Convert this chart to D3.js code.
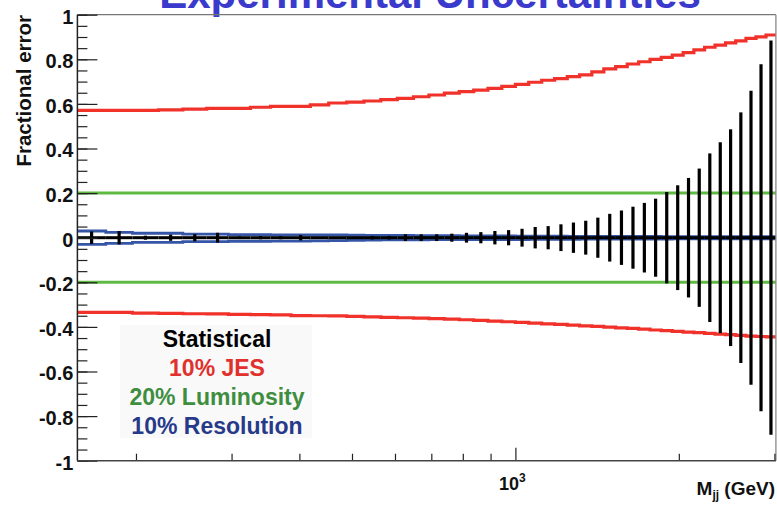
<!DOCTYPE html>
<html><head><meta charset="utf-8">
<script src="https://cdn.jsdelivr.net/npm/d3@7"></script>
<style>
html,body{margin:0;padding:0;background:#fff;}
svg{display:block;font-family:"Liberation Sans",Arial,Helvetica,sans-serif;}
</style></head>
<body><svg id="c" width="777" height="505"></svg>
<script>
// Bin edges of the dijet mass spectrum (GeV)
const binEdges = [156,176,197,220,244,270,296,325,354,386,419,453,489,526,565,606,649,693,740,788,838,890,944,1000,1058,1118,1181,1246,1313,1383,1455,1530,1607,1687,1770,1856,1945,2037,2132,2231,2332,2438,2546,2659,2775,2895,3019];
// Statistical fractional error (symmetric) per bin
const statErr = [0.028,0.030,0.009,0.014,0.016,0.022,0.006,0.007,0.007,0.012,0.003,0.003,0.004,0.008,0.008,0.015,0.015,0.015,0.018,0.022,0.025,0.030,0.034,0.040,0.048,0.052,0.060,0.068,0.076,0.090,0.107,0.122,0.139,0.156,0.175,0.205,0.235,0.268,0.310,0.378,0.428,0.486,0.562,0.659,0.778,0.884];
// 10% JES upper / lower fractional shifts per bin
const jesUp = [0.571,0.571,0.571,0.573,0.577,0.580,0.580,0.585,0.589,0.589,0.596,0.604,0.608,0.613,0.619,0.625,0.632,0.640,0.648,0.655,0.662,0.670,0.679,0.688,0.697,0.706,0.713,0.722,0.730,0.744,0.757,0.767,0.779,0.789,0.800,0.809,0.819,0.830,0.842,0.854,0.864,0.874,0.883,0.894,0.901,0.909];
const jesDown = [-0.335,-0.335,-0.338,-0.339,-0.341,-0.342,-0.344,-0.345,-0.346,-0.349,-0.350,-0.351,-0.353,-0.355,-0.357,-0.359,-0.361,-0.363,-0.365,-0.368,-0.371,-0.374,-0.377,-0.380,-0.383,-0.386,-0.389,-0.392,-0.395,-0.398,-0.401,-0.404,-0.407,-0.410,-0.414,-0.417,-0.420,-0.423,-0.426,-0.429,-0.432,-0.435,-0.438,-0.441,-0.443,-0.445];
// 20% luminosity
const lumiUp = 0.2, lumiDown = -0.2;
// 10% resolution upper / lower per bin
const resUp = [0.030,0.024,0.020,0.020,0.016,0.016,0.014,0.014,0.013,0.013,0.012,0.012,0.011,0.010,0.010,0.010,0.009,0.009,0.009,0.008,0.008,0.008,0.008,0.007,0.007,0.007,0.007,0.006,0.006,0.006,0.006,0.006,0.006,0.006,0.006,0.005,0.005,0.005,0.005,0.005,0.005,0.005,0.005,0.005,0.005,0.005];
const resDown = [-0.030,-0.025,-0.021,-0.021,-0.018,-0.018,-0.016,-0.016,-0.015,-0.015,-0.014,-0.013,-0.012,-0.011,-0.010,-0.010,-0.010,-0.009,-0.009,-0.009,-0.008,-0.008,-0.008,-0.008,-0.007,-0.007,-0.007,-0.007,-0.006,-0.006,-0.006,-0.006,-0.006,-0.006,-0.006,-0.006,-0.005,-0.005,-0.005,-0.005,-0.005,-0.005,-0.005,-0.005,-0.005,-0.005];
// Axis ticks
const yMajorTicks = [-1,-0.8,-0.6,-0.4,-0.2,0,0.2,0.4,0.6,0.8,1];
const yTickLabels = ["-1","-0.8","-0.6","-0.4","-0.2","0","0.2","0.4","0.6","0.8","1"];
const yMinorTicks = d3.range(-20,21).map(k => k*0.05);
const xMinorTicks = [200,300,400,500,600,700,800,900,2000,3000];
const xMajorTicks = [1000];
const legendItems = [
  {text:"Statistical", color:"#000000"},
  {text:"10% JES", color:"#e2302c"},
  {text:"20% Luminosity", color:"#3f8e3f"},
  {text:"10% Resolution", color:"#273a8a"}
];

const svg = d3.select("#c");
const L=77.4, R=775.9, T=14.7, B=460.7;
const x = d3.scaleLog().domain([binEdges[0], binEdges[binEdges.length-1]]).range([L,R]);
const y = d3.scaleLinear().domain([-1,1]).range([B,T]);

// title (partially clipped at top, as in the original)
svg.append("text").attr("x",430).attr("y",8).attr("text-anchor","middle")
  .attr("font-size",42).attr("font-weight","bold").attr("fill","#3a3acc")
  .text("Experimental Uncertainties");

// legend background
svg.append("rect").attr("x",120).attr("y",325).attr("width",192).attr("height",113).attr("fill","#f9f9f9");

const g = svg.append("g");

// step helper
const stepLine = d3.line().curve(d3.curveStepAfter).x(d=>x(d[0])).y(d=>y(d[1]));
function stepData(vals){
  const pts = vals.map((v,i)=>[binEdges[i],v]);
  pts.push([binEdges[binEdges.length-1], vals[vals.length-1]]);
  return pts;
}

// luminosity
[lumiUp,lumiDown].forEach(v=>{
  g.append("line").attr("x1",x(binEdges[0])).attr("x2",x(binEdges[binEdges.length-1]))
   .attr("y1",y(v)).attr("y2",y(v)).attr("stroke","#5fba43").attr("stroke-width",3);
});
// JES
[jesUp,jesDown].forEach(vals=>{
  g.append("path").attr("d",stepLine(stepData(vals))).attr("fill","none")
   .attr("stroke","#f0322a").attr("stroke-width",3.2);
});
// resolution
[resUp,resDown].forEach(vals=>{
  g.append("path").attr("d",stepLine(stepData(vals))).attr("fill","none")
   .attr("stroke","#3556a6").attr("stroke-width",2.8);
});
// statistical: horizontal bin-width bars at 0 and vertical error bars
const bins = statErr.map((e,i)=>({lo:binEdges[i], hi:binEdges[i+1], c:Math.sqrt(binEdges[i]*binEdges[i+1]), e}));
g.selectAll("line.h").data(bins).join("line").attr("class","h")
  .attr("x1",d=>x(d.lo)).attr("x2",d=>x(d.hi)).attr("y1",y(0)).attr("y2",y(0))
  .attr("stroke","#000").attr("stroke-width",3);
g.selectAll("line.v").data(bins).join("line").attr("class","v")
  .attr("x1",d=>x(d.c)).attr("x2",d=>x(d.c)).attr("y1",d=>y(-d.e)).attr("y2",d=>y(d.e))
  .attr("stroke","#000").attr("stroke-width",3.2);

// frame
svg.append("line").attr("x1",L).attr("x2",R).attr("y1",T).attr("y2",T).attr("stroke","#777").attr("stroke-width",1.3);
svg.append("line").attr("x1",R).attr("x2",R).attr("y1",T).attr("y2",B).attr("stroke","#888").attr("stroke-width",1.3);

// y axis
const yMinor = svg.append("g").attr("transform",`translate(${L},0)`)
  .call(d3.axisLeft(y).tickValues(yMinorTicks).tickSize(-10).tickFormat(""));
const yMajor = svg.append("g").attr("transform",`translate(${L},0)`)
  .call(d3.axisLeft(y).tickValues(yMajorTicks).tickSize(-20).tickPadding(4)
    .tickFormat((d,i)=>yTickLabels[i]));
[yMinor,yMajor].forEach(a=>{a.select(".domain").remove(); a.selectAll(".tick line").attr("stroke","#222").attr("stroke-width",1.2);});
yMajor.selectAll(".tick text").attr("font-size",20).attr("font-weight","bold").attr("fill","#111")
  .attr("font-family","Liberation Sans, Arial, sans-serif").attr("dy","0.42em");

// x axis
const xMinor = svg.append("g").attr("transform",`translate(0,${B})`)
  .call(d3.axisBottom(x).tickValues(xMinorTicks).tickSize(-7).tickFormat(""));
const xMajor = svg.append("g").attr("transform",`translate(0,${B})`)
  .call(d3.axisBottom(x).tickValues(xMajorTicks).tickSize(-13).tickFormat(""));
[xMinor,xMajor].forEach(a=>{a.select(".domain").remove(); a.selectAll(".tick line").attr("stroke","#222").attr("stroke-width",1.2);});

// axis lines
svg.append("line").attr("x1",L).attr("x2",L).attr("y1",T).attr("y2",B).attr("stroke","#222").attr("stroke-width",1.5);
svg.append("line").attr("x1",L).attr("x2",R).attr("y1",B).attr("y2",B).attr("stroke","#444").attr("stroke-width",1.5);

// x tick label 10^3
const lab = svg.append("text").attr("x",x(1000)-3).attr("y",490).attr("text-anchor","middle")
  .attr("font-size",18).attr("font-weight","bold").attr("fill","#111");
lab.append("tspan").text("10");
lab.append("tspan").attr("font-size",12).attr("dy",-8).text("3");

// x title
const xt = svg.append("text").attr("x",775).attr("y",495).attr("text-anchor","end")
  .attr("font-size",19).attr("font-weight","bold").attr("fill","#111");
xt.append("tspan").text("M");
xt.append("tspan").attr("font-size",12).attr("dy",4).text("jj");
xt.append("tspan").attr("dy",-4).text(" (GeV)");

// y title
svg.append("text").attr("transform","translate(31,15) rotate(-90)").attr("text-anchor","end")
  .attr("font-size",20.5).attr("font-weight","bold").attr("fill","#111").text("Fractional error");

// legend
svg.selectAll("text.leg").data(legendItems).join("text").attr("class","leg")
  .attr("x",217).attr("y",(d,i)=>347+i*29).attr("text-anchor","middle")
  .attr("font-size",23).attr("font-weight","bold").attr("fill",d=>d.color).text(d=>d.text);
</script></body></html>
